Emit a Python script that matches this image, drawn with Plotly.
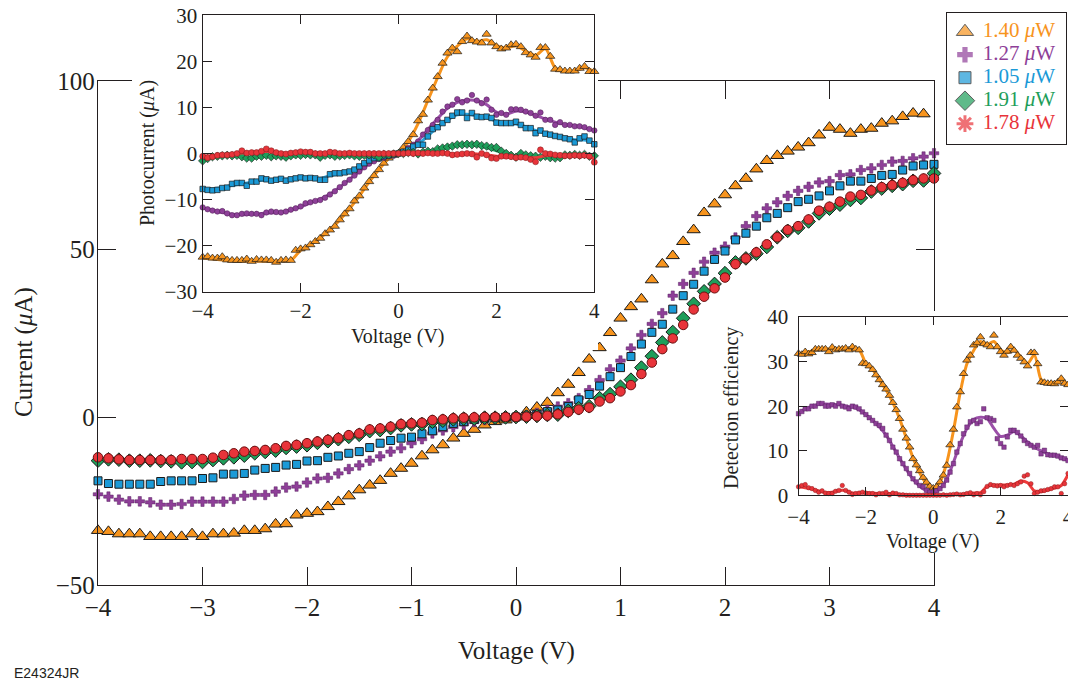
import numpy as np
import plotly.graph_objects as go

W, H = 1068, 681
FONT = "Liberation Serif"
INK = "#231f20"

# ---------------- data ----------------
V = np.round(np.linspace(-4, 4, 81), 1)    # bias voltage of measured points (V)
VF = np.round(np.linspace(-4, 4, 41), 1)   # voltage grid of the fitted curves (V)

powers = ["1.40", "1.27", "1.05", "1.91", "1.78"]
colors = ["#F7941D", "#8E3F98", "#1B9AD7", "#1E9E5A", "#E8343A"]

main_xticks = [-4, -3, -2, -1, 0, 1, 2, 3, 4]
main_yticks = [-50, 0, 50, 100]
pc_xticks = [-4, -2, 0, 2, 4]
pc_yticks = [-30, -20, -10, 0, 10, 20, 30]
de_yticks = [0, 10, 20, 30, 40]

# main plot: current (uA)
main_orange = [-33.8, -34.1, -34.8, -34.8, -34.8, -35.6, -35.6, -35.6, -35.6, -34.8,
               -35.6, -34.8, -34.8, -34.6, -33.8, -33.8, -33.3, -31.9, -31.8, -29.2,
               -28.7, -28.2, -26.7, -25.2, -23.5, -21.7, -20.3, -18.9, -16.8, -15.3,
               -13.8, -11.6, -9.8, -8.3, -6.3, -4.9, -3.7, -2.4, -1.4, -0.9,
               0.0, 1.5, 2.9, 4.3, 7.2, 9.7, 13.2, 17.2, 20.6, 25.1,
               29.4, 32.8, 35.1, 40.8, 45.5, 48.0, 52.2, 55.7, 60.8, 63.4,
               66.1, 68.8, 71.0, 73.8, 76.3, 77.8, 79.1, 80.3, 81.6, 83.9,
               86.2, 85.6, 84.4, 85.6, 85.9, 87.4, 88.1, 89.4, 90.4, 90.2,
               None]
main_purple = [-23.0, -23.7, -24.6, -25.1, -25.1, -25.4, -26.1, -26.1, -25.9, -25.2,
               -25.2, -25.2, -25.2, -24.4, -23.4, -23.2, -23.2, -22.2, -21.0, -20.7,
               -19.5, -18.3, -18.1, -16.8, -15.5, -14.4, -13.0, -11.7, -10.3, -9.3,
               -7.8, -6.6, -4.9, -4.0, -3.0, -2.2, -1.5, -0.9, -0.5, -0.2,
               0.0, 0.5, 1.2, 2.1, 3.1, 4.1, 5.6, 8.0, 11.0, 14.2,
               16.8, 20.4, 24.4, 27.7, 30.9, 36.1, 39.6, 42.9, 46.2, 48.9,
               50.7, 53.4, 56.8, 59.8, 62.1, 63.9, 65.8, 67.3, 68.5, 69.8,
               70.2, 72.0, 72.2, 73.5, 74.0, 75.0, 76.0, 76.2, 77.0, 77.5,
               78.5]
main_blue = [-19.0, -19.8, -20.0, -20.0, -20.0, -20.0, -19.2, -19.0, -19.0, -19.0,
             -18.3, -18.1, -17.0, -17.0, -16.8, -15.8, -15.3, -15.0, -14.3, -14.1,
             -13.1, -13.0, -12.0, -11.6, -10.8, -10.3, -9.1, -7.8, -7.0, -6.3,
             -6.0, -5.0, -4.1, -2.9, -1.9, -1.4, -0.7, -0.4, -0.2, -0.1,
             0.0, 0.3, 0.8, 1.6, 2.1, 3.1, 5.1, 6.7, 9.2, 12.0,
             14.7, 18.0, 21.7, 25.2, 27.6, 32.1, 36.1, 39.5, 43.4, 46.9,
             49.4, 52.7, 54.7, 56.8, 59.3, 60.6, 62.3, 64.1, 64.8, 65.8,
             67.3, 68.8, 70.2, 70.2, 71.0, 71.9, 72.2, 73.5, 74.7, 75.0,
             75.2]
main_green = [-13.0, -12.6, -12.7, -13.0, -13.0, -12.9, -13.1, -13.2, -13.5, -13.4,
              -13.4, -12.8, -12.3, -12.0, -11.5, -10.8, -10.4, -10.0, -9.2, -8.8,
              -8.4, -7.7, -7.2, -6.6, -5.9, -5.3, -4.2, -3.9, -3.3, -2.5,
              -2.2, -2.1, -1.4, -1.1, -0.7, -0.5, -0.5, -0.2, -0.2, -0.1,
              0.0, 0.1, 0.3, 0.6, 0.7, 1.8, 2.6, 3.2, 5.6, 6.8,
              9.0, 11.1, 14.7, 18.1, 22.2, 25.3, 29.4, 33.7, 37.4, 39.6,
              42.8, 46.0, 47.2, 48.6, 50.6, 53.5, 55.4, 56.3, 58.2, 60.6,
              62.0, 63.2, 64.6, 65.2, 67.1, 68.0, 68.8, 69.3, 70.3, 70.4,
              72.5]
main_red = [-12.0, -12.3, -12.6, -12.8, -12.8, -12.8, -12.8, -12.8, -12.5, -12.5,
            -12.5, -12.1, -11.3, -10.8, -10.3, -10.1, -9.8, -9.3, -8.6, -8.3,
            -7.8, -7.3, -6.8, -6.3, -5.4, -4.9, -3.7, -3.4, -2.9, -2.1,
            -1.9, -1.7, -0.9, -0.7, -0.4, -0.2, -0.1, 0.0, 0.0, 0.0,
            0.0, 0.1, 0.2, 0.4, 0.8, 1.5, 2.2, 2.8, 4.6, 5.6,
            7.6, 9.5, 12.8, 16.2, 20.2, 23.4, 27.4, 32.0, 35.8, 38.3,
            41.5, 45.5, 47.2, 49.0, 51.4, 53.5, 55.7, 56.8, 58.8, 61.4,
            62.6, 64.1, 65.6, 66.1, 67.4, 68.4, 69.0, 69.7, 70.5, 71.0,
            71.0]

# inset 1: photocurrent (uA)
pc_orange = [-22.5, -22.4, -22.7, -22.7, -22.4, -23.1, -23.2, -23.2, -23.2, -22.9,
             -23.4, -23.0, -23.1, -23.1, -23.2, -23.6, -23.2, -23.1, -23.2, -21.0,
             -20.7, -20.5, -19.8, -19.1, -18.4, -17.4, -16.6, -15.8, -14.4, -13.1,
             -12.0, -10.3, -9.2, -7.5, -6.1, -4.8, -3.5, -2.1, -1.0, -0.4,
             0.0, 1.3, 2.6, 4.1, 7.1, 8.5, 11.6, 14.2, 16.7, 19.6,
             21.8, 22.9, 22.1, 24.3, 25.5, 24.5, 24.2, 24.0, 25.9, 24.0,
             23.2, 22.7, 22.9, 23.6, 23.7, 23.2, 21.9, 21.4, 20.9, 23.0,
             23.0, 21.1, 18.3, 18.2, 17.9, 17.9, 17.9, 18.5, 18.9, 17.8,
             17.8]
pc_purple = [-11.7, -12.1, -12.4, -12.6, -12.5, -13.0, -13.4, -13.4, -13.1, -13.0,
             -13.1, -13.1, -13.4, -12.8, -12.6, -12.7, -12.8, -12.6, -12.2, -11.9,
             -11.5, -10.8, -10.6, -10.3, -10.1, -9.6, -8.9, -8.2, -7.3, -6.4,
             -5.7, -4.8, -3.9, -3.0, -2.2, -1.7, -1.2, -0.9, -0.6, -0.5,
             0.0, 0.4, 1.2, 1.9, 2.6, 4.1, 5.1, 6.2, 7.3, 9.1,
             10.2, 10.6, 11.8, 11.1, 11.5, 12.7, 11.5, 10.9, 11.7, 9.5,
             8.4, 8.8, 8.4, 9.6, 9.6, 9.5, 9.1, 8.8, 8.2, 8.9,
             7.3, 7.3, 6.2, 6.8, 6.2, 6.2, 5.9, 5.9, 5.7, 5.3,
             5.0]
pc_blue = [-7.7, -7.9, -8.0, -7.9, -7.5, -7.4, -6.6, -6.4, -6.4, -7.0,
           -6.1, -6.1, -5.4, -5.6, -5.9, -5.7, -5.5, -5.9, -5.6, -5.4,
           -5.2, -5.4, -5.3, -5.4, -5.7, -5.7, -4.5, -4.3, -4.3, -4.1,
           -3.9, -3.5, -2.8, -2.1, -1.5, -1.0, -1.0, -0.6, -0.4, -0.1,
           0.0, 0.4, 0.8, 1.5, 1.9, 1.9, 3.7, 5.3, 5.7, 6.6,
           7.3, 8.2, 8.9, 8.9, 7.7, 8.8, 8.0, 7.9, 8.0, 7.7,
           6.7, 6.6, 6.6, 6.6, 6.9, 6.2, 5.5, 5.5, 4.4, 5.0,
           4.3, 4.1, 3.8, 3.6, 3.3, 3.1, 2.4, 3.3, 3.7, 2.8,
           2.0]
pc_green = [-1.6, -1.1, -0.7, -0.6, -0.5, -0.4, -0.5, -0.4, -0.7, -1.0,
            -1.0, -0.6, -0.6, -0.4, -0.7, -0.5, -0.6, -0.8, -0.5, -0.3,
            -0.4, -0.2, -0.3, -0.3, -0.8, -0.4, -0.3, -0.6, -0.5, -0.4,
            -0.3, -0.5, -0.6, -0.4, -0.3, -0.3, -0.8, -0.2, -0.3, -0.1,
            0.0, 0.0, 0.2, 0.2, -0.1, 0.3, 0.5, 0.4, 1.0, 1.2,
            1.4, 1.6, 1.9, 1.9, 2.0, 1.9, 2.0, 1.7, 1.6, 1.3,
            1.3, 0.5, 0.0, -0.4, -0.8, 0.0, -0.3, -0.5, -0.6, -0.8,
            -0.6, -0.9, -1.0, -0.9, -0.3, -0.4, -0.2, -0.4, -0.2, -0.6,
            -0.5]
pc_red = [-0.6, -0.9, -0.7, -0.4, -0.3, -0.3, -0.2, 0.0, 0.6, 0.1,
          0.2, 0.2, 0.5, 1.0, 0.6, 0.2, 0.0, -0.1, 0.1, 0.2,
          0.4, 0.3, 0.3, 0.0, 0.0, 0.0, 0.3, 0.2, 0.0, 0.0,
          0.1, 0.0, 0.0, 0.0, 0.0, 0.0, 0.0, 0.0, 0.0, 0.0,
          0.0, 0.0, 0.1, 0.0, 0.1, 0.0, 0.1, 0.0, 0.0, 0.1,
          0.0, -0.3, -0.2, -0.1, 0.0, -0.1, -0.8, 0.0, -0.3, -1.0,
          -1.1, -0.6, -0.6, -0.7, -0.9, -0.8, -0.9, -1.3, -1.8, 0.8,
          0.0, -0.1, -0.3, -0.4, -0.5, -0.5, -0.4, -0.5, -0.4, -0.6,
          -1.9]

# inset 1 fitted curves (on VF grid)
pc_orange_fit = [-22.7, -22.9, -23.1, -23.3, -23.4, -23.4, -23.4, -23.4, -23.3, -23.2,
                 -21.0, -19.8, -18.3, -16.6, -14.4, -12.0, -9.2, -6.2, -3.5, -1.1,
                 0.0,
                 2.6, 6.5, 11.5, 16.5, 21.0, 23.3, 24.9, 24.3, 24.7, 23.4,
                 22.9, 23.4, 22.2, 21.3, 22.8, 18.6, 17.9, 17.9, 18.6, 17.8]
pc_purple_fit = [-11.8, -12.3, -12.8, -13.2, -13.3, -13.2, -13.0, -12.9, -12.8, -12.3,
                 -11.6, -10.7, -9.9, -8.8, -7.3, -5.6, -3.9, -2.3, -1.2, -0.5,
                 0.0,
                 1.0, 2.8, 5.2, 7.6, 9.8, 11.1, 11.6, 11.5, 10.6, 9.0,
                 8.5, 9.2, 9.0, 8.3, 7.5, 6.8, 6.3, 6.0, 5.6, 5.0]
pc_blue_fit = [-7.8, -7.7, -7.4, -6.9, -6.6, -6.2, -5.8, -5.7, -5.6, -5.5,
               -5.3, -5.3, -5.4, -4.8, -4.3, -3.8, -2.8, -1.6, -0.9, -0.4,
               0.0,
               0.8, 2.0, 3.8, 5.8, 7.3, 8.4, 8.5, 8.2, 7.8, 7.0,
               6.6, 6.4, 5.8, 5.0, 4.4, 3.9, 3.4, 3.0, 2.9, 2.3]
pc_green_fit = [-1.2, -0.7, -0.5, -0.5, -0.6, -0.8, -0.6, -0.5, -0.6, -0.5,
                -0.4, -0.3, -0.5, -0.4, -0.5, -0.4, -0.5, -0.4, -0.5, -0.3,
                0.0,
                0.2, 0.2, 0.4, 0.9, 1.3, 1.8, 1.9, 1.8, 1.3, 0.6,
                -0.1, -0.5, -0.5, -0.6, -0.7, -0.8, -0.6, -0.4, -0.4, -0.5]
pc_red_fit = [-0.6, -0.5, -0.3, -0.1, 0.1, 0.2, 0.4, 0.5, 0.1, 0.0,
              0.2, 0.2, 0.1, 0.1, 0.1, 0.0, 0.0, 0.0, 0.0, 0.0,
              0.0,
              0.0, 0.0, 0.0, 0.0, 0.0, -0.1, 0.0, -0.1, -0.3, -0.6,
              -0.8, -0.9, -0.9, -0.9, -0.5, -0.3, -0.4, -0.5, -0.6, -1.1]

# inset 2: detection efficiency
de_orange = [31.8, 31.6, 32.2, 31.7, 32.0, 32.8, 32.8, 32.8, 32.8, 32.2,
             33.2, 32.6, 32.8, 32.8, 33.0, 32.6, 33.3, 32.8, 32.6, 29.6,
             29.5, 29.0, 28.2, 27.0, 25.9, 24.8, 23.8, 22.4, 20.8, 19.2,
             17.2, 14.8, 12.8, 10.8, 8.2, 6.8, 5.5, 4.0, 2.9, 2.0,
             1.6, 1.9, 3.0, 4.5, 6.7, 11.3, 14.8, 19.8, 23.2, 27.3,
             30.3, 31.4, 33.7, 34.2, 35.5, 34.0, 33.7, 33.3, 35.9, 33.3,
             32.2, 31.4, 32.3, 33.3, 32.5, 31.4, 30.7, 29.9, 29.0, 32.0,
             32.0, 29.5, 25.4, 25.3, 25.1, 25.1, 25.0, 25.4, 26.2, 25.1,
             24.8]
de_purple = [18.3, 18.8, 19.4, 19.4, 20.0, 20.0, 20.6, 20.6, 20.0, 20.0,
             20.3, 20.0, 20.6, 20.0, 19.8, 19.4, 20.0, 19.8, 19.4, 18.7,
             18.1, 17.4, 16.8, 16.1, 15.7, 15.0, 13.5, 12.3, 10.8, 9.7,
             8.2, 7.1, 6.0, 4.9, 3.7, 3.0, 2.2, 1.9, 1.1, 0.7,
             0.7, 1.0, 1.5, 2.2, 3.4, 5.2, 7.1, 9.7, 11.6, 13.8,
             15.3, 16.5, 16.8, 16.1, 16.5, 19.4, 17.4, 17.2, 16.8, 12.7,
             11.6, 10.8, 13.1, 14.6, 14.6, 14.1, 13.3, 12.3, 11.6, 11.2,
             10.8, 11.2, 9.3, 10.1, 9.1, 9.0, 9.0, 8.8, 8.4, 8.2,
             7.8]
de_red = [1.9, 2.2, 2.4, 1.7, 1.5, 1.1, 0.7, 1.0, 0.5, 0.4,
          0.4, 0.9, 1.1, 2.2, 1.1, 0.7, 0.2, 0.4, 0.5, 0.7,
          0.5, 0.4, 0.4, 0.1, 0.4, 0.4, 0.7, 0.1, 0.5, 0.4,
          0.1, 0.1, 0.0, 0.0, 0.0, 0.0, 0.0, 0.0, 0.0, 0.0,
          0.0, 0.0, 0.0, 0.1, 0.0, 0.1, 0.2, 0.3, 0.1, 0.2,
          0.4, 0.6, 0.1, 0.4, 0.1, 0.8, 2.0, 2.4, 2.2, 2.1,
          2.2, 1.9, 2.2, 2.4, 2.2, 2.6, 3.0, 4.3, 4.6, 2.6,
          0.4, 0.7, 1.0, 1.1, 1.3, 1.5, 1.9, 1.9, 0.4, 2.6,
          4.9]

de_orange_fit = [31.8, 32.0, 32.4, 32.7, 32.8, 32.8, 32.8, 32.8, 32.8, 32.6,
                 29.6, 28.2, 25.9, 23.6, 20.8, 17.2, 12.8, 8.4, 5.0, 2.6,
                 1.4,
                 3.0, 7.3, 14.5, 23.0, 29.5, 32.5, 34.5, 33.8, 34.5, 32.6,
                 32.0, 32.6, 31.0, 29.6, 31.5, 26.0, 25.0, 25.2, 25.8, 24.8]
de_purple_fit = [18.4, 19.4, 20.0, 20.4, 20.5, 20.4, 20.3, 20.0, 19.8, 19.2,
                 18.1, 16.8, 15.3, 13.5, 11.0, 8.3, 5.8, 3.6, 2.0, 1.0,
                 0.6,
                 1.5, 3.6, 7.4, 11.6, 15.0, 17.0, 17.5, 17.2, 15.0, 13.2,
                 13.5, 14.3, 13.3, 12.0, 10.8, 10.0, 9.3, 8.9, 8.4, 7.8]
de_red_fit = [1.9, 1.7, 1.4, 1.0, 0.6, 0.7, 1.1, 1.1, 0.5, 0.5,
              0.6, 0.5, 0.4, 0.4, 0.4, 0.2, 0.1, 0.0, 0.0, 0.0,
              0.0,
              0.0, 0.0, 0.1, 0.2, 0.4, 0.5, 0.6, 2.0, 2.3, 2.3,
              2.3, 2.5, 3.2, 2.8, 1.0, 0.8, 1.2, 1.6, 2.2, 4.6]

for arr in [main_orange, main_purple, main_blue, main_green, main_red,
            pc_orange, pc_purple, pc_blue, pc_green, pc_red,
            de_orange, de_purple, de_red]:
    assert len(arr) == 81, len(arr)
for arr in [pc_orange_fit, pc_purple_fit, pc_blue_fit, pc_green_fit, pc_red_fit,
            de_orange_fit, de_purple_fit, de_red_fit]:
    assert len(arr) == 41, len(arr)

# ---------------- figure ----------------
fig = go.Figure()
OR, PU, BL, GR, RD = colors
DARK = "#1a1a1a"


def markers(x, y, ax, symbol, size, color, lc, lw):
    return go.Scatter(x=x, y=y, mode="markers", xaxis="x" + ax, yaxis="y" + ax,
                      marker=dict(symbol=symbol, size=size, color=color,
                                  line=dict(color=lc, width=lw)),
                      showlegend=False, cliponaxis=False, hoverinfo="skip")


def fitline(y, ax, color, width=3):
    return go.Scatter(x=VF, y=y, mode="lines", xaxis="x" + ax, yaxis="y" + ax,
                      line=dict(color=color, width=width, shape="spline", smoothing=0.8),
                      showlegend=False, hoverinfo="skip")


# main plot (subplot xy)
fig.add_trace(markers(V, main_orange, "", "triangle-up", 11.5, OR, DARK, 1.0))
fig.add_trace(markers(V, main_purple, "", "cross", 8, PU, "#5b2363", 0.5))
fig.add_trace(markers(V, main_blue, "", "square", 8, BL, DARK, 1.0))
fig.add_trace(markers(V, main_green, "", "diamond", 10.5, GR, DARK, 1.0))
fig.add_trace(markers(V, main_red, "", "circle", 9.5, RD, "#6a1010", 1.0))

# white cover behind inset 1 (subplot x2y2)
fig.add_trace(go.Scatter(x=[None], y=[None], xaxis="x2", yaxis="y2", showlegend=False))

# inset 1 (subplot x3y3)
fig.add_trace(fitline(pc_orange_fit, "3", OR))
fig.add_trace(markers(V, pc_orange, "3", "triangle-up", 8, OR, DARK, 0.7))
fig.add_trace(fitline(pc_purple_fit, "3", "#9B4FA8"))
fig.add_trace(markers(V, pc_purple, "3", "circle", 5.5, PU, "#4a1d50", 0.5))
fig.add_trace(fitline(pc_blue_fit, "3", "#2AA4DE"))
fig.add_trace(markers(V, pc_blue, "3", "square", 5.5, BL, DARK, 0.7))
fig.add_trace(fitline(pc_green_fit, "3", "#27A862"))
fig.add_trace(markers(V, pc_green, "3", "diamond", 6.5, GR, DARK, 0.6))
fig.add_trace(fitline(pc_red_fit, "3", "#EE3B3B"))
fig.add_trace(markers(V, pc_red, "3", "circle", 6, RD, "#7a1a1a", 0.5))

# white cover behind inset 2 (subplot x4y4)
fig.add_trace(go.Scatter(x=[None], y=[None], xaxis="x4", yaxis="y4", showlegend=False))

# inset 2 (subplot x5y5)
fig.add_trace(fitline(de_orange_fit, "5", OR))
fig.add_trace(markers(V, de_orange, "5", "triangle-up", 7.5, OR, DARK, 0.7))
fig.add_trace(fitline(de_purple_fit, "5", "#9B4FA8"))
fig.add_trace(markers(V, de_purple, "5", "square", 4.5, PU, "#4a1d50", 0.4))
fig.add_trace(fitline(de_red_fit, "5", "#EE3B3B"))
fig.add_trace(markers(V, de_red, "5", "circle", 4.5, RD, "#7a1a1a", 0.4))

# legend box (subplot x6y6)
idx = list(range(len(powers)))
fig.add_trace(go.Scatter(
    x=[0.151] * len(powers), y=idx, mode="markers", xaxis="x6", yaxis="y6",
    marker=dict(symbol=["triangle-up", "cross", "square", "diamond", "asterisk-open"],
                size=[15, 13, 12, 15, 14], color=colors,
                line=dict(color=[DARK, PU, DARK, DARK, RD], width=[1, 0, 1, 1, 3])),
    showlegend=False, cliponaxis=False, hoverinfo="skip"))
fig.add_trace(go.Scatter(
    x=[0.30] * len(powers), y=idx, mode="text", xaxis="x6", yaxis="y6",
    text=[p + " <i>\u03bc</i>W" for p in powers], textposition="middle right",
    textfont=dict(family=FONT, size=21, color=colors),
    showlegend=False, cliponaxis=False, hoverinfo="skip"))


def frame_axis(**kw):
    base = dict(showline=True, linecolor=INK, linewidth=1.3, mirror="ticks",
                ticks="inside", tickcolor=INK, tickwidth=1.3, showgrid=False,
                zeroline=False, fixedrange=True, automargin=False,
                ticklabeloverflow="allow",
                tickfont=dict(family=FONT, color=INK, size=21))
    base.update(kw)
    return base


def hidden_axis(**kw):
    base = dict(visible=False, range=[0, 1], fixedrange=True, showgrid=False,
                zeroline=False, automargin=False)
    base.update(kw)
    return base


def title(text, x, y, size, angle=0):
    return dict(text=text, x=x / W, y=1 - y / H, xref="paper", yref="paper",
                showarrow=False, xanchor="center", yanchor="middle", textangle=angle,
                font=dict(family=FONT, size=size, color=INK))


fig.update_layout(
    template="none",
    width=W, height=H,
    margin=dict(l=0, r=0, t=0, b=0, pad=0, autoexpand=False),
    paper_bgcolor="white", plot_bgcolor="white",
    showlegend=False,
    font=dict(family=FONT, color=INK),
    xaxis=frame_axis(domain=[98 / W, 934 / W], range=[-4, 4], tickvals=main_xticks,
                     ticklen=18, anchor="y", tickfont=dict(family=FONT, color=INK, size=25)),
    yaxis=frame_axis(domain=[1 - 585 / H, 1 - 81 / H], range=[-50, 100], tickvals=main_yticks,
                     ticklen=18, anchor="x", ticklabelstandoff=-3,
                     tickfont=dict(family=FONT, color=INK, size=25)),
    xaxis2=hidden_axis(domain=[132 / W, 598 / W], anchor="y2"),
    yaxis2=hidden_axis(domain=[1 - 350 / H, 1.0], anchor="x2"),
    xaxis3=frame_axis(domain=[202.7 / W, 594.3 / W], range=[-4, 4], tickvals=pc_xticks,
                      ticklen=9, anchor="y3"),
    yaxis3=frame_axis(domain=[1 - 291.7 / H, 1 - 15.3 / H], range=[-30, 30], tickvals=pc_yticks,
                      ticklen=9, anchor="x3"),
    xaxis4=hidden_axis(domain=[718 / W, 1.0], anchor="y4"),
    yaxis4=hidden_axis(domain=[1 - 553 / H, 1 - 311 / H], anchor="x4"),
    xaxis5=frame_axis(domain=[798.5 / W, 1.0], range=[-4, 4], tickvals=pc_xticks,
                      ticklen=8, anchor="y5", ticklabelstandoff=2),
    yaxis5=frame_axis(domain=[1 - 495.3 / H, 1 - 317 / H], range=[0, 40], tickvals=de_yticks,
                      ticklen=8, anchor="x5", ticklabelstandoff=5),
    xaxis6=dict(domain=[947 / W, 1066 / W], range=[0, 1], anchor="y6", showline=True,
                mirror=True, linecolor=INK, linewidth=1.3, ticks="", showticklabels=False,
                showgrid=False, zeroline=False, fixedrange=True, automargin=False),
    yaxis6=dict(domain=[1 - 144 / H, 1 - 13 / H], range=[4.883, -0.813], anchor="x6",
                showline=True, mirror=True, linecolor=INK, linewidth=1.3, ticks="",
                showticklabels=False, showgrid=False, zeroline=False, fixedrange=True,
                automargin=False),
    annotations=[
        title("Voltage (V)", 516, 651, 25),
        title("Current (<i>\u03bc</i>A)", 24, 352, 25, -90),
        title("Voltage (V)", 398, 336, 20),
        title("Photocurrent (<i>\u03bc</i>A)", 148, 153, 20, -90),
        title("Voltage (V)", 933, 541, 20),
        title("Detection efficiency", 731, 408, 20, -90),
        dict(text="E24324JR", x=12 / W, y=1 - 673 / H, xref="paper", yref="paper",
             showarrow=False, xanchor="left", yanchor="middle",
             font=dict(family="Liberation Sans", size=14, color=INK)),
    ],
)

fig.write_html("out.html")
